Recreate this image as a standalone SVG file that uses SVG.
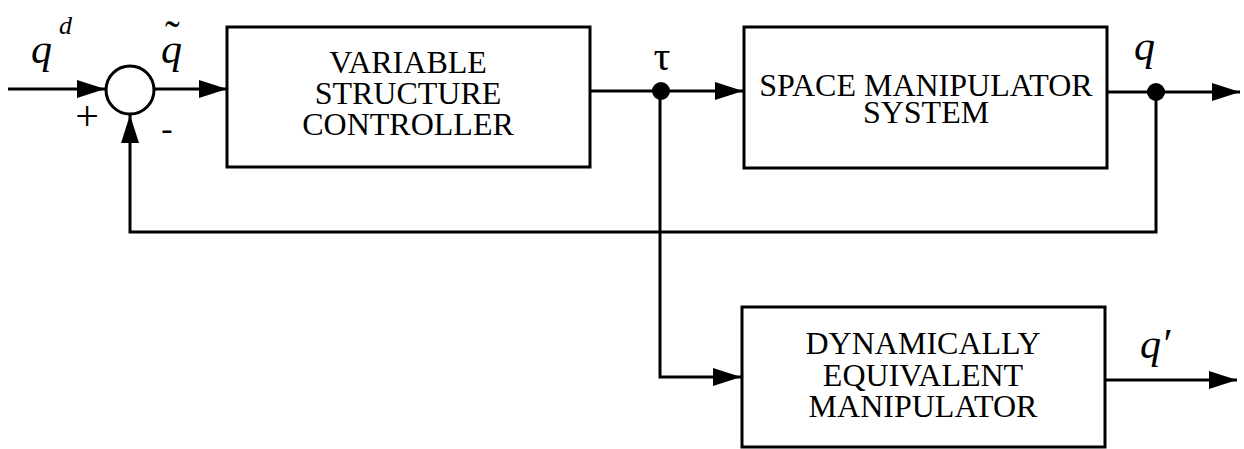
<svg xmlns="http://www.w3.org/2000/svg" width="1244" height="449" viewBox="0 0 1244 449">
<defs>
<style>
.box{fill:#fff;stroke:#000;stroke-width:3}
.ln{fill:none;stroke:#000;stroke-width:3}
.lbl{font-family:"Liberation Serif","Times New Roman",serif;font-size:32px;fill:#000;text-anchor:middle}
.m{font-family:"Liberation Serif","Times New Roman",serif;font-style:italic;fill:#000}
.s{font-family:"Liberation Serif","Times New Roman",serif;fill:#000;text-anchor:middle}
</style>
<marker id="ah" markerUnits="userSpaceOnUse" markerWidth="28" markerHeight="18" refX="28" refY="9" orient="auto">
<path d="M0,0 L28,9 L0,18 z" fill="#000"/>
</marker>
</defs>
<rect width="1244" height="449" fill="#fff"/>
<g id="connectors">
<path class="ln" d="M8,89 H105" marker-end="url(#ah)"/>
<path class="ln" d="M155,89 H227" marker-end="url(#ah)"/>
<path class="ln" d="M590,91 H743" marker-end="url(#ah)"/>
<path class="ln" d="M1107,92 H1240" marker-end="url(#ah)"/>
<path class="ln" d="M1156,92 V232 H130 V115" marker-end="url(#ah)"/>
<path class="ln" d="M660,91 V377 H741" marker-end="url(#ah)"/>
<path class="ln" d="M1105,380 H1237" marker-end="url(#ah)"/>
<circle cx="661" cy="91" r="9" fill="#000"/>
<circle cx="1156" cy="92" r="9" fill="#000"/>
</g>
<g id="sum">
<circle cx="130" cy="90" r="24" class="box"/>
<text class="s" x="87" y="130" font-size="42">+</text>
<text class="s" x="167" y="140" font-size="34">-</text>
</g>
<g id="vsc">
<rect class="box" x="227" y="27" width="363" height="140"/>
<text class="lbl"><tspan x="408" y="73">VARIABLE</tspan><tspan x="408" y="104">STRUCTURE</tspan><tspan x="408" y="135">CONTROLLER</tspan></text>
</g>
<g id="sms">
<rect class="box" x="744" y="27" width="363" height="141"/>
<text class="lbl"><tspan x="926" y="96">SPACE MANIPULATOR</tspan><tspan x="926" y="123">SYSTEM</tspan></text>
</g>
<g id="dem">
<rect class="box" x="742" y="307" width="363" height="140"/>
<text class="lbl"><tspan x="923" y="354">DYNAMICALLY</tspan><tspan x="923" y="386">EQUIVALENT</tspan><tspan x="923" y="417">MANIPULATOR</tspan></text>
</g>
<g id="labels">
<text class="m" x="31" y="63" font-size="42">q<tspan font-size="26" dx="7" dy="-29">d</tspan></text>
<text class="m" x="161" y="63" font-size="42">q<tspan dx="-17" dy="-12" font-style="normal" font-size="44">˜</tspan></text>
<text class="s" x="662" y="70" font-size="42">τ</text>
<text class="m" x="1134" y="60" font-size="42">q</text>
<text class="m" x="1140" y="358" font-size="42">q′</text>
</g>
</svg>
